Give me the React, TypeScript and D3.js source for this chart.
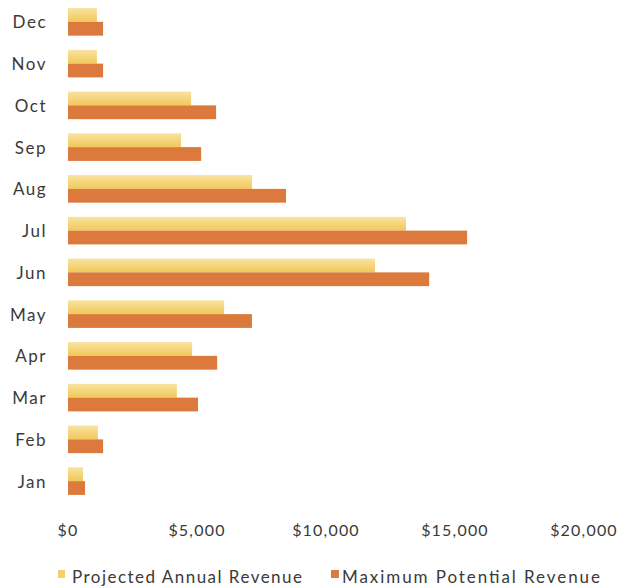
import React from "react";
import * as d3 from "d3";

const months = ["Jan", "Feb", "Mar", "Apr", "May", "Jun", "Jul", "Aug", "Sep", "Oct", "Nov", "Dec"];
const projected = [580, 1160, 4220, 4810, 6050, 11900, 13100, 7130, 4380, 4770, 1120, 1120];
const maximum = [660, 1360, 5040, 5780, 7130, 14000, 15470, 8450, 5160, 5740, 1360, 1360];
const xTicks = [0, 5000, 10000, 15000, 20000];
const seriesNames = ["Projected Annual Revenue", "Maximum Potential Revenue"];
const seriesColors = ["#F4D06C", "#DB7A3C"];

const W = 624;
const H = 588;
const FONT = "Lato, 'Open Sans', sans-serif";

export default function App() {
  const x = d3.scaleLinear().domain([0, 20000]).range([68, 584]);
  const y = d3
    .scaleBand<string>()
    .domain([...months].reverse())
    .range([1, 502])
    .paddingInner(0.34)
    .paddingOuter(0.17);
  const inner = d3.scaleBand<number>().domain([0, 1]).range([0, y.bandwidth()]);
  const fmt = (v: number) => "$" + d3.format(",")(v);
  const series = [projected, maximum];

  return (
    <svg
      width={W}
      height={H}
      style={{ position: "absolute", left: 0, top: 0, background: "#fff" }}
      fontFamily={FONT}
    >
      <defs>
        <linearGradient id="projGrad" x1="0" y1="0" x2="0" y2="1">
          <stop offset="0" stopColor="#F8E3A0" />
          <stop offset="1" stopColor="#F1C85A" />
        </linearGradient>
      </defs>
      {months.map((m, i) => (
        <g key={m}>
          {series.map((s, si) => (
            <rect
              key={si}
              x={x(0)}
              y={(y(m) ?? 0) + (inner(si) ?? 0)}
              width={x(s[i]) - x(0)}
              height={inner.bandwidth()}
              fill={si === 0 ? "url(#projGrad)" : seriesColors[1]}
            />
          ))}
          <text
            x={47}
            y={(y(m) ?? 0) + y.bandwidth() / 2}
            textAnchor="end"
            dominantBaseline="central"
            fontSize={17}
            letterSpacing={1.5}
            fill="#3a3a3a"
          >
            {m}
          </text>
        </g>
      ))}
      {xTicks.map((t) => (
        <text
          key={t}
          x={x(t)}
          y={529}
          textAnchor="middle"
          dominantBaseline="central"
          fontSize={16}
          letterSpacing={1.2}
          fill="#3a3a3a"
        >
          {fmt(t)}
        </text>
      ))}
      <g>
        <rect x={58} y={570} width={7} height={8} fill={seriesColors[0]} />
        <text
          x={72}
          y={576}
          dominantBaseline="central"
          fontSize={17}
          textLength={230}
          lengthAdjust="spacing"
          fill="#3a3a3a"
        >
          {seriesNames[0]}
        </text>
        <rect x={331} y={570} width={8} height={8} fill={seriesColors[1]} />
        <text
          x={342}
          y={576}
          dominantBaseline="central"
          fontSize={17}
          textLength={258}
          lengthAdjust="spacing"
          fill="#3a3a3a"
        >
          {seriesNames[1]}
        </text>
      </g>
    </svg>
  );
}
